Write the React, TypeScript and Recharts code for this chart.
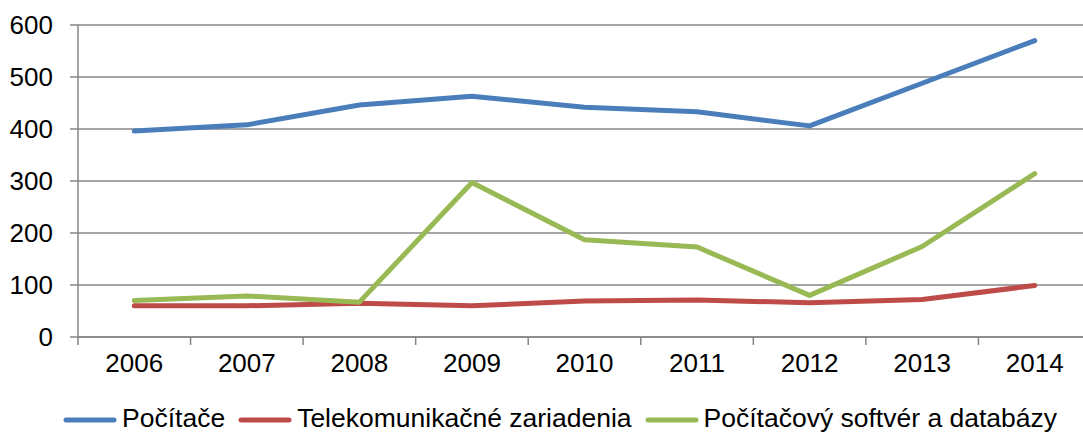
import React from 'react';
import { LineChart, Line, XAxis, YAxis, CartesianGrid } from 'recharts';

const years = ['2006', '2007', '2008', '2009', '2010', '2011', '2012', '2013', '2014'];
const pocitace = [396, 408, 446, 463, 442, 433, 406, 488, 570];
const telekom = [60, 60, 65, 60, 69, 71, 66, 72, 99];
const softver = [70, 79, 67, 297, 187, 173, 80, 174, 314];
const yTicks = [0, 100, 200, 300, 400, 500, 600];

const seriesNames = ['Počítače', 'Telekomunikačné zariadenia', 'Počítačový softvér a databázy'];
const colors = ['#4A7EBB', '#BE4B48', '#98B954'];

const data = years.map((year, i) => ({
  i,
  year,
  pc: pocitace[i],
  tel: telekom[i],
  sw: softver[i],
}));

const CHART_W = 1100;
const CHART_H = 434;
const PLOT_LEFT = 78;
const PLOT_RIGHT = 1091;
const PLOT_TOP = 25;
const PLOT_BOTTOM = 337;
const X_AXIS_H = 40;
const HALF_BAND = (PLOT_RIGHT - PLOT_LEFT) / years.length / 2;
const FONT = '"Liberation Sans", Arial, sans-serif';
const AXIS_GRAY = '#868686';

function YearTick(props: any) {
  const { x, y, payload } = props;
  return (
    <g>
      <line x1={x - HALF_BAND} y1={y} x2={x - HALF_BAND} y2={y + 8} stroke={AXIS_GRAY} strokeWidth={1.5} />
      <text x={x} y={y + 35} textAnchor="middle" fill="#000" fontSize={26} fontFamily={FONT}>
        {years[payload.value]}
      </text>
    </g>
  );
}

function ChartLegend() {
  return (
    <div
      style={{
        position: 'absolute',
        left: 63,
        top: 403,
        display: 'flex',
        alignItems: 'center',
        fontFamily: FONT,
        fontSize: 26.5,
        color: '#000',
        whiteSpace: 'nowrap',
      }}
    >
      {seriesNames.map((name, k) => (
        <div key={name} style={{ display: 'flex', alignItems: 'center', marginRight: 13 }}>
          <svg width={54} height={10} style={{ marginRight: 5 }}>
            <line x1={3} y1={6} x2={51} y2={6} stroke={colors[k]} strokeWidth={5} strokeLinecap="round" />
          </svg>
          <span>{name}</span>
        </div>
      ))}
    </div>
  );
}

export default function App() {
  return (
    <div
      style={{
        position: 'absolute',
        left: 0,
        top: 0,
        width: 1083,
        height: 434,
        overflow: 'hidden',
        background: '#fff',
      }}
    >
      <LineChart
        width={CHART_W}
        height={CHART_H}
        data={data}
        margin={{
          top: PLOT_TOP,
          left: 0,
          right: CHART_W - PLOT_RIGHT,
          bottom: CHART_H - PLOT_BOTTOM - X_AXIS_H,
        }}
      >
        <CartesianGrid vertical={false} stroke={AXIS_GRAY} strokeWidth={1.5} />
        <XAxis
          dataKey="i"
          type="number"
          domain={[-0.5, years.length - 0.5]}
          ticks={years.map((_, i) => i)}
          height={X_AXIS_H}
          tickLine={false}
          tickSize={0}
          tickMargin={0}
          axisLine={{ stroke: AXIS_GRAY, strokeWidth: 1.5 }}
          tick={<YearTick />}
          interval={0}
        />
        <YAxis
          width={PLOT_LEFT}
          domain={[0, 600]}
          ticks={yTicks}
          interval={0}
          tickSize={8}
          tickMargin={17}
          axisLine={{ stroke: AXIS_GRAY, strokeWidth: 1.5 }}
          tickLine={{ stroke: AXIS_GRAY, strokeWidth: 1.5 }}
          tick={{ fill: '#000', fontSize: 26, fontFamily: FONT }}
        />
        <Line dataKey="pc" name={seriesNames[0]} stroke={colors[0]} strokeWidth={5} dot={false} strokeLinecap="round" strokeLinejoin="round" isAnimationActive={false} />
        <Line dataKey="tel" name={seriesNames[1]} stroke={colors[1]} strokeWidth={5} dot={false} strokeLinecap="round" strokeLinejoin="round" isAnimationActive={false} />
        <Line dataKey="sw" name={seriesNames[2]} stroke={colors[2]} strokeWidth={5} dot={false} strokeLinecap="round" strokeLinejoin="round" isAnimationActive={false} />
      </LineChart>
      <ChartLegend />
    </div>
  );
}
